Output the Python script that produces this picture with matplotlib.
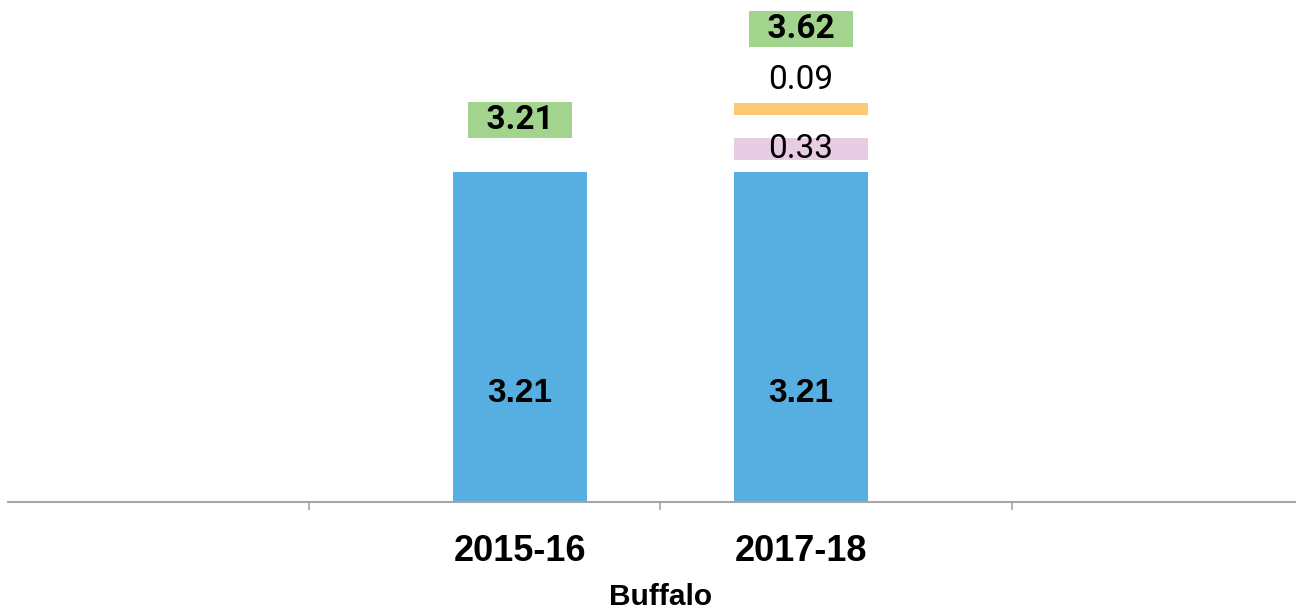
import matplotlib
matplotlib.use("Agg")
import matplotlib.pyplot as plt

# data
years = ["2015-16", "2017-18"]
base = [3.21, 3.21]
inc_pink = [0.0, 0.33]
inc_orange = [0.0, 0.09]
totals = [3.21, 3.62]
region = "Buffalo"

blue = "#57aee0"
pink = "#e6cde4"
orange = "#fdc974"
green = "#a2d48e"
narrow = ["Roboto", "DejaVu Sans"]
wide = ["Liberation Sans", "DejaVu Sans"]

fig = plt.figure(figsize=(13.11, 6.10), dpi=100)
ax = fig.add_axes([8 / 1311, 108 / 610, 1287 / 1311, 502 / 610])

x = list(range(len(years)))
w = 0.48
gap1 = 0.12   # white gap under pink piece
gap2 = 0.22   # white gap under orange piece

ax.bar(x, base, width=w, color=blue)
for i in x:
    # in-bar label
    ax.text(i, base[i] * 0.33, f"{base[i]:.2f}", ha="center", va="center",
            fontsize=24, fontweight="bold", family=wide)
    top = base[i]
    if inc_pink[i] > 0:
        ax.bar(i, inc_pink[i] - gap1, bottom=base[i] + gap1, width=w, color=pink)
        ax.text(i, base[i] + gap1 + (inc_pink[i] - gap1) / 2, f"{inc_pink[i]:.2f}",
                ha="center", va="center", fontsize=24, family=narrow)
        top = base[i] + inc_pink[i]
    if inc_orange[i] > 0:
        ob = top + gap2
        oh = inc_orange[i] + 0.03
        ax.bar(i, oh, bottom=ob, width=w, color=orange)
        top = ob + oh
        ax.annotate(f"{inc_orange[i]:.2f}", (i, top), xytext=(0, 23),
                    textcoords="offset pixels", ha="center", va="center",
                    fontsize=24, family=narrow)
        off = 74
    else:
        off = 52
    ax.annotate(f"  {totals[i]:.2f}  ", (i, top), xytext=(0, off),
                textcoords="offset pixels", ha="center", va="center",
                fontsize=24, fontweight="bold", family=narrow,
                bbox=dict(boxstyle="square,pad=0.06", fc=green, ec="none"))

ax.set_xlim(-1.822, 2.758)
ax.set_ylim(0, 4.883)

for s in ["top", "right", "left"]:
    ax.spines[s].set_visible(False)
ax.spines["bottom"].set_color("#a6a6a6")
ax.spines["bottom"].set_linewidth(1.5)
ax.set_yticks([])

ax.set_xticks(x)
ax.set_xticklabels(years, fontsize=26, fontweight="bold", family=wide)
ax.tick_params(axis="x", which="major", length=0, pad=23)
ax.set_xticks([-0.75, 0.5, 1.75], minor=True)
ax.tick_params(axis="x", which="minor", length=6, color="#a6a6a6", width=1.2)

ax.set_xlabel(region, fontsize=21.5, fontweight="bold", family=wide)
ax.xaxis.set_label_coords((661 - 8) / 1287, -81 / 502)

fig.savefig("out.png", dpi=100)
